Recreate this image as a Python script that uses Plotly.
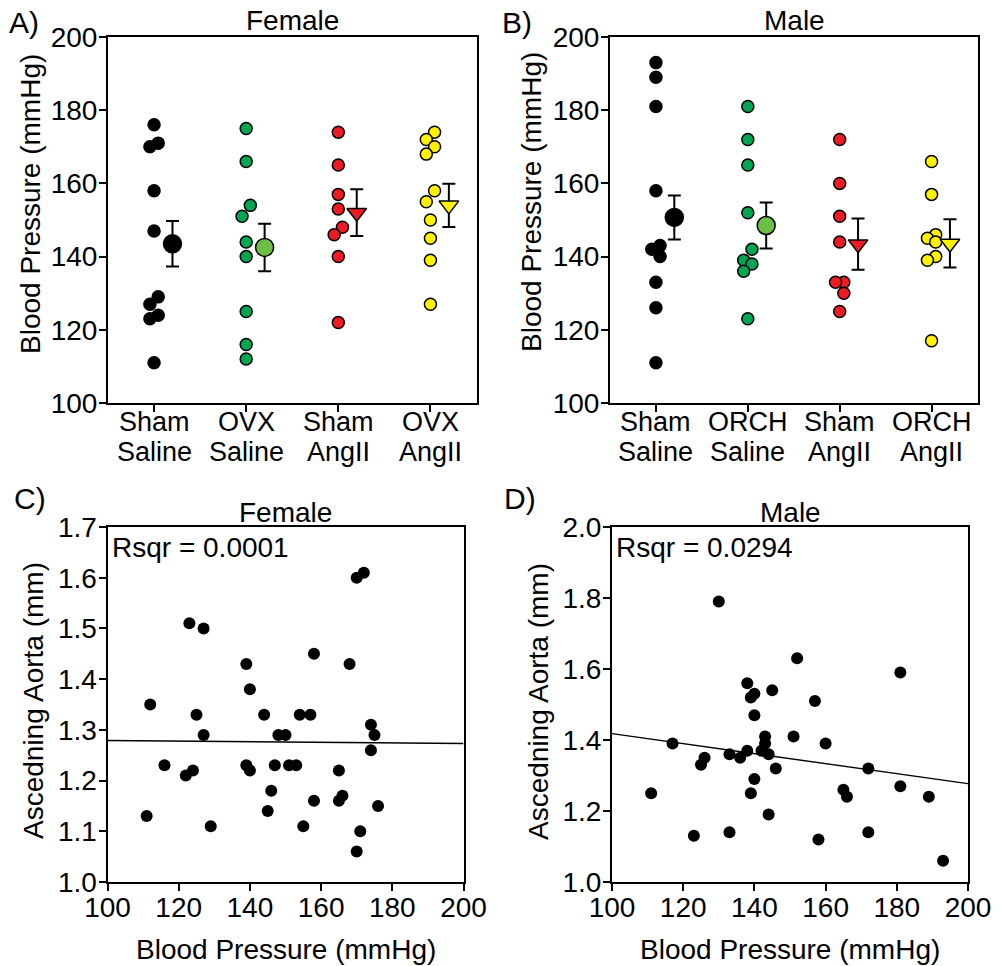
import plotly.graph_objects as go

W, H = 1002, 966
FONT = "Liberation Sans, Arial, sans-serif"
FS = 28

# ---- Panels A/B: blood pressure by group (mmHg) ----
female_groups = ["Sham<br>Saline", "OVX<br>Saline", "Sham<br>AngII", "OVX<br>AngII"]
male_groups = ["Sham<br>Saline", "ORCH<br>Saline", "Sham<br>AngII", "ORCH<br>AngII"]

female_sham_saline = [176, 171, 170, 158, 147, 129, 127, 124, 123, 111]
female_ovx_saline = [175, 166, 154, 151, 144, 140, 125, 116, 112]
female_sham_angii = [174, 165, 157, 153, 148, 146, 140, 122]
female_ovx_angii = [174, 172, 170, 168, 158, 155, 150, 145, 139, 127]

male_sham_saline = [193, 189, 181, 158, 143, 142, 140, 133, 126, 111]
male_orch_saline = [181, 172, 165, 152, 142, 139, 138, 136, 123]
male_sham_angii = [172, 160, 151, 144, 133, 133, 130, 125]
male_orch_angii = [166, 157, 146, 145, 144, 140, 139, 117]

female_mean = [143.5, 142.5, 152.0, 154.0]
female_sem = [6.2, 6.5, 6.4, 5.9]
male_mean = [150.7, 148.5, 143.4, 143.6]
male_sem = [6.0, 6.3, 7.0, 6.6]

# ---- Panels C/D: ascending aorta vs blood pressure ----
female_bp = [112, 111, 116, 123, 127, 125, 127, 122, 124, 129, 139, 140, 139, 140,
             144, 146, 145, 147, 148, 150, 151, 153, 154, 157, 158, 158, 155, 168,
             165, 165, 166, 170, 172, 174, 175, 174, 176, 171, 170]
female_aorta = [1.35, 1.13, 1.23, 1.51, 1.50, 1.33, 1.29, 1.21, 1.22, 1.11, 1.43, 1.38,
                1.23, 1.22, 1.33, 1.18, 1.14, 1.23, 1.29, 1.29, 1.23, 1.23, 1.33, 1.33,
                1.45, 1.16, 1.11, 1.43, 1.22, 1.16, 1.17, 1.60, 1.61, 1.31, 1.29, 1.26,
                1.15, 1.10, 1.06]
male_bp = [111, 117, 123, 125, 126, 130, 133, 133, 136, 138, 138, 139, 140, 140, 140,
           139, 143, 143, 142, 144, 145, 146, 144, 151, 152, 157, 158, 160, 165, 166,
           172, 172, 181, 181, 189, 193]
male_aorta = [1.25, 1.39, 1.13, 1.33, 1.35, 1.79, 1.14, 1.36, 1.35, 1.37, 1.56, 1.52,
              1.53, 1.47, 1.29, 1.25, 1.41, 1.39, 1.37, 1.36, 1.54, 1.32, 1.19, 1.41,
              1.63, 1.51, 1.12, 1.39, 1.26, 1.24, 1.32, 1.14, 1.59, 1.27, 1.24, 1.06]

# linear fits (intercept, slope)
female_fit = (1.285, -0.00006)
male_fit = (1.559, -0.00141)
female_rsqr = "Rsqr = 0.0001"
male_rsqr = "Rsqr = 0.0294"

point_colors = ["#000000", "#00A651", "#ED1C24", "#FFF200"]
mean_colors = ["#000000", "#6CBE45", "#ED1C24", "#FFF200"]
mean_symbols = ["circle", "circle", "triangle-down", "triangle-down"]


def px(x):
    return x / W


def py(y):
    return 1 - y / H


def lane_offsets(values, gap=3.0, step=0.045):
    """Spread near-identical values left/right of the group centre."""
    order = sorted(range(len(values)), key=lambda i: -values[i])
    offs = [0.0] * len(values)
    clusters, cur = [], [order[0]]
    for a, b in zip(order, order[1:]):
        if values[a] - values[b] <= gap:
            cur.append(b)
        else:
            clusters.append(cur)
            cur = [b]
    clusters.append(cur)
    for c in clusters:
        if len(c) > 1:
            for k, i in enumerate(c):
                offs[i] = step if k % 2 == 0 else -step
    return offs


fig = go.Figure()


def add_group_panel(groups_data, means, sems, xa, ya):
    for i, vals in enumerate(groups_data):
        offs = lane_offsets(vals)
        fig.add_trace(go.Scatter(
            x=[i + o for o in offs], y=vals, mode="markers",
            marker=dict(size=12, color=point_colors[i],
                        line=dict(color="black", width=1.5)),
            xaxis=xa, yaxis=ya, showlegend=False, cliponaxis=False))
        is_tri = mean_symbols[i] == "triangle-down"
        fig.add_trace(go.Scatter(
            x=[i + 0.2], y=[means[i]], mode="markers",
            marker=dict(size=17 if is_tri else 18, color=mean_colors[i],
                        symbol=mean_symbols[i],
                        line=dict(color="black", width=1.5)),
            error_y=dict(type="data", array=[sems[i]], visible=True,
                         color="black", thickness=2, width=6.5),
            xaxis=xa, yaxis=ya, showlegend=False, cliponaxis=False))


add_group_panel([female_sham_saline, female_ovx_saline, female_sham_angii, female_ovx_angii],
                female_mean, female_sem, "x", "y")
add_group_panel([male_sham_saline, male_orch_saline, male_sham_angii, male_orch_angii],
                male_mean, male_sem, "x2", "y2")


def add_scatter_panel(bp, aorta, fit, xa, ya):
    fig.add_trace(go.Scatter(
        x=bp, y=aorta, mode="markers",
        marker=dict(size=12, color="black"),
        xaxis=xa, yaxis=ya, showlegend=False, cliponaxis=False))
    xs = [100, 200]
    fig.add_trace(go.Scatter(
        x=xs, y=[fit[0] + fit[1] * v for v in xs], mode="lines",
        line=dict(color="black", width=1.4),
        xaxis=xa, yaxis=ya, showlegend=False))


add_scatter_panel(female_bp, female_aorta, female_fit, "x3", "y3")
add_scatter_panel(male_bp, male_aorta, male_fit, "x4", "y4")

axis_common = dict(showline=True, mirror=True, linecolor="black", linewidth=2,
                   ticks="outside", ticklen=7, tickwidth=2, tickcolor="black",
                   showgrid=False, zeroline=False, automargin=False,
                   tickfont=dict(family=FONT, size=FS, color="black"))

# domains in pixels: (left, right, top, bottom)
dom = {
    "A": (108, 476.5, 37, 403),
    "B": (610, 977.5, 37, 403),
    "C": (107.5, 463.5, 527, 882),
    "D": (612, 968, 527, 882),
}

layout_axes = {}
for n, key in enumerate("ABCD", start=1):
    l, r, t, b = dom[key]
    sx = "" if n == 1 else str(n)
    xa = dict(axis_common, domain=[px(l), px(r)], anchor="y" + sx)
    ya = dict(axis_common, domain=[py(b), py(t)], anchor="x" + sx,
              ticklabelstandoff=-4)
    if key in "AB":
        xa.update(range=[-0.5, 3.5], tickvals=[0, 1, 2, 3], showticklabels=False)
        ya.update(range=[100, 200], tickvals=[100, 120, 140, 160, 180, 200])
    else:
        xa.update(range=[100, 200], tickvals=[100, 120, 140, 160, 180, 200],
                  ticklabelstandoff=-8)
        if key == "C":
            ya.update(range=[1.0, 1.7], tickvals=[1.0, 1.1, 1.2, 1.3, 1.4, 1.5, 1.6, 1.7],
                      tickformat=".1f")
        else:
            ya.update(range=[1.0, 2.0], tickvals=[1.0, 1.2, 1.4, 1.6, 1.8, 2.0],
                      tickformat=".1f")
    layout_axes["xaxis" + sx] = xa
    layout_axes["yaxis" + sx] = ya

annotations = []


def text(t, x, y, xref="paper", yref="paper", angle=0, xanchor="center", size=FS):
    annotations.append(dict(text=t, x=x, y=y, xref=xref, yref=yref, showarrow=False,
                            textangle=angle, xanchor=xanchor, yanchor="middle",
                            font=dict(family=FONT, size=size, color="black")))


# group labels below the category axes (two lines each)
for groups, xref in ((female_groups, "x"), (male_groups, "x2")):
    for i, g in enumerate(groups):
        top, bottom = g.split("<br>")
        text(top, i, py(422), xref=xref, size=27)
        text(bottom, i, py(452), xref=xref, size=27)

# panel titles
text("Female", px(292), py(21))
text("Male", px(794), py(21))
text("Female", px(285), py(512))
text("Male", px(790), py(512))

# panel letters
text("A)", px(24), py(22), size=30)
text("B)", px(517), py(22), size=30)
text("C)", px(30), py(498), size=30)
text("D)", px(520), py(498), size=30)

# axis titles
text("Blood Pressure (mmHg)", px(31), py(204), angle=-90)
text("Blood Pressure (mmHg)", px(531), py(202), angle=-90)
text("Ascedning Aorta (mm)", px(33), py(701), angle=-90)
text("Ascedning Aorta (mm)", px(538), py(702), angle=-90)
text("Blood Pressure (mmHg)", px(286), py(949))
text("Blood Pressure (mmHg)", px(790), py(949))

# fit statistics
text(female_rsqr, px(110), py(547), xanchor="left")
text(male_rsqr, px(614), py(547), xanchor="left")

fig.update_layout(
    width=W, height=H, margin=dict(l=0, r=0, t=0, b=0),
    paper_bgcolor="white", plot_bgcolor="white",
    showlegend=False, annotations=annotations,
    font=dict(family=FONT, size=FS, color="black"),
    **layout_axes)

fig.write_html("out.html")
